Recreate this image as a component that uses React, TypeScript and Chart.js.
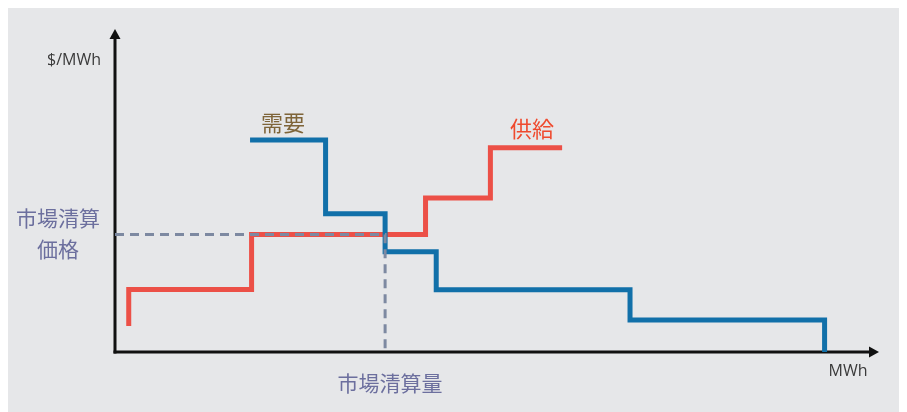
import React, { useEffect, useRef } from "react";
import { Chart, registerables } from "chart.js";

Chart.register(...registerables);

// Supply curve (horizontal-then-vertical steps): quantity (MWh) and price ($/MWh)
const supplyQty = [1.8, 1.8, 17.9, 40.7, 49.2, 58.6];
const supplyPrice = [8.1, 19.4, 36.5, 47.8, 63.4, 63.4];

// Demand curve (horizontal-then-vertical steps)
const demandQty = [17.7, 27.6, 35.4, 42.1, 67.5, 93.0];
const demandPrice = [65.8, 42.9, 31.1, 19.3, 9.9, 0];

// Market clearing point
const clearingQty = 35.4;
const clearingPrice = 36.5;

const xMax = 100;
const yMax = 100;

const labels = {
  yUnit: "$/MWh",
  xUnit: "MWh",
  demand: "需要",
  supply: "供給",
  priceLine1: "市場清算",
  priceLine2: "価格",
  qty: "市場清算量",
};

const cjk = '"Noto Sans CJK JP", "Noto Sans", sans-serif';
const latin = '"Open Sans", "Noto Sans", sans-serif';

const overlayPlugin = {
  id: "overlay",
  beforeDatasetsDraw(chart: any) {
    const { ctx, scales } = chart;
    const x = scales.x;
    const y = scales.y;
    const x0 = x.getPixelForValue(0);
    const y0 = y.getPixelForValue(0);
    const yTop = y.getPixelForValue(yMax);
    const xRight = x.getPixelForValue(xMax);
    ctx.save();
    ctx.strokeStyle = "#111111";
    ctx.fillStyle = "#111111";
    ctx.lineWidth = 3;
    ctx.lineCap = "butt";
    // y axis
    ctx.beginPath();
    ctx.moveTo(x0, y0 + 1.5);
    ctx.lineTo(x0, yTop + 8);
    ctx.stroke();
    ctx.beginPath();
    ctx.moveTo(x0, yTop - 1);
    ctx.lineTo(x0 - 5.5, yTop + 9);
    ctx.lineTo(x0 + 5.5, yTop + 9);
    ctx.closePath();
    ctx.fill();
    // x axis
    ctx.beginPath();
    ctx.moveTo(x0 - 1.5, y0);
    ctx.lineTo(xRight - 8, y0);
    ctx.stroke();
    ctx.beginPath();
    ctx.moveTo(xRight + 1, y0);
    ctx.lineTo(xRight - 9, y0 - 5.5);
    ctx.lineTo(xRight - 9, y0 + 5.5);
    ctx.closePath();
    ctx.fill();
    ctx.restore();
  },
  afterDatasetsDraw(chart: any) {
    const { ctx, scales } = chart;
    const x = scales.x;
    const y = scales.y;
    const x0 = x.getPixelForValue(0);
    const y0 = y.getPixelForValue(0);
    const xRight = x.getPixelForValue(xMax);
    ctx.save();
    ctx.textBaseline = "middle";
    // unit labels
    ctx.fillStyle = "#3a3a3a";
    ctx.font = `16px ${latin}`;
    ctx.textAlign = "center";
    ctx.fillText(labels.yUnit, x0 - 41, y.getPixelForValue(90.7));
    ctx.fillText(labels.xUnit, xRight - 30, y0 + 19);
    // demand / supply labels
    ctx.font = `22px ${cjk}`;
    ctx.textAlign = "left";
    ctx.fillStyle = "#7f6539";
    ctx.fillText(labels.demand, x.getPixelForValue(demandQty[0]) + 11, y.getPixelForValue(demandPrice[0]) - 17);
    ctx.fillStyle = "#ef4a2e";
    ctx.textAlign = "right";
    ctx.fillText(labels.supply, x.getPixelForValue(supplyQty[supplyQty.length - 1]) - 8, y.getPixelForValue(supplyPrice[supplyPrice.length - 1]) - 19);
    // clearing labels
    ctx.fillStyle = "#6c6f9e";
    ctx.font = `21px ${cjk}`;
    ctx.textAlign = "center";
    const py = y.getPixelForValue(clearingPrice);
    ctx.fillText(labels.priceLine1, x0 - 57, py - 16);
    ctx.fillText(labels.priceLine2, x0 - 57, py + 15);
    ctx.fillText(labels.qty, x.getPixelForValue(clearingQty) + 5, y0 + 31);
    ctx.restore();
  },
};

export default function App() {
  const canvasRef = useRef<HTMLCanvasElement | null>(null);

  useEffect(() => {
    if (!canvasRef.current) return;
    const toPts = (xs: number[], ys: number[]) => xs.map((v, i) => ({ x: v, y: ys[i] }));
    const chart = new Chart(canvasRef.current, {
      type: "scatter",
      data: {
        datasets: [
          {
            label: "clearing",
            data: [
              { x: 0, y: clearingPrice },
              { x: clearingQty, y: clearingPrice },
              { x: clearingQty, y: 0 },
            ],
            showLine: true,
            borderColor: "#7d89a1",
            borderWidth: 3,
            borderDash: [9, 6],
            pointRadius: 0,
            clip: false,
            order: 0,
          } as any,
          {
            label: "demand",
            data: toPts(demandQty, demandPrice),
            showLine: true,
            stepped: "before",
            borderColor: "#1170a9",
            borderWidth: 5,
            borderJoinStyle: "miter",
            borderCapStyle: "butt",
            pointRadius: 0,
            clip: false,
            order: 1,
          } as any,
          {
            label: "supply",
            data: toPts(supplyQty, supplyPrice),
            showLine: true,
            stepped: "before",
            borderColor: "#ec5047",
            borderWidth: 5,
            borderJoinStyle: "miter",
            borderCapStyle: "butt",
            pointRadius: 0,
            clip: false,
            order: 2,
          } as any,
        ],
      },
      options: {
        animation: false,
        responsive: true,
        maintainAspectRatio: false,
        layout: { padding: { left: 107, right: 29, top: 22, bottom: 60 } },
        plugins: { legend: { display: false }, tooltip: { enabled: false } },
        scales: {
          x: { type: "linear", min: 0, max: xMax, display: false },
          y: { type: "linear", min: 0, max: yMax, display: false },
        },
      },
      plugins: [overlayPlugin],
    });
    return () => chart.destroy();
  }, []);

  return (
    <div style={{ width: 899, height: 404, background: "#e6e7e9", position: "relative" }}>
      <canvas ref={canvasRef} />
    </div>
  );
}
